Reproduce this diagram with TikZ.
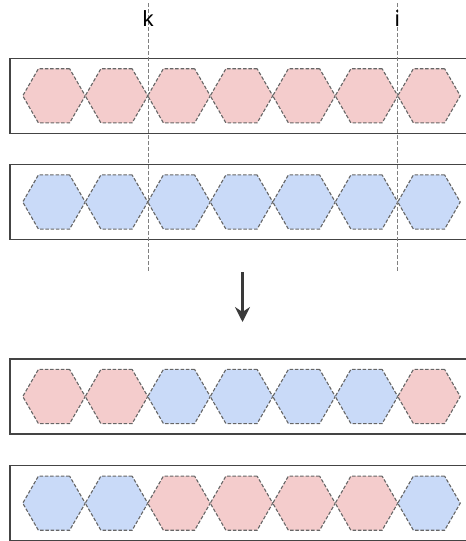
\documentclass[tikz,border=0pt]{standalone}
\usepackage{fontspec}
\setmainfont{Liberation Sans}
\usetikzlibrary{shapes.geometric,arrows.meta}

\definecolor{rosa}{HTML}{F4CCCC}
\definecolor{azzurro}{HTML}{C9DAF8}
\definecolor{bordo}{HTML}{444444}
\definecolor{scuro}{HTML}{3A3A3A}

\tikzset{
  cella/.style={regular polygon, regular polygon sides=6, minimum size=62.5pt,
    inner sep=0pt, outer sep=0pt, draw=black!60, line width=1.1pt,
    dash pattern=on 3.5pt off 1.8pt},
  riga/.style={draw=bordo, line width=1.3pt, minimum width=480pt,
    minimum height=75pt, inner sep=0pt, outer sep=0pt},
  taglio/.style={draw=black!50, line width=0.8pt, dash pattern=on 4pt off 2pt},
  freccia/.style={draw=scuro, line width=2.4pt,
    -{Stealth[length=15pt,width=15pt,inset=5pt]}},
}

\begin{document}
\begin{tikzpicture}[x=1pt, y=-1pt]
    \clip (0,0) rectangle (466,541);

    % Righe (i bordi destri escono dal foglio)
    \node[riga] (rigaA) at (250, 95.8) {};
    \node[riga] (rigaB) at (250, 201.8) {};
    \node[riga] (rigaC) at (250, 396.5) {};
    \node[riga] (rigaD) at (250, 503.2) {};

    % Prima coppia: tutta rosa e tutta azzurra
    \foreach \n in {1,...,7}
        \node[cella, fill=rosa] (a\n) at ({54+62.5*(\n-1)}, 95.8) {};
    \foreach \n in {1,...,7}
        \node[cella, fill=azzurro] (b\n) at ({54+62.5*(\n-1)}, 202) {};

    % Seconda coppia: tratto tra k e i scambiato
    \foreach \n/\c in {1/rosa,2/rosa,3/azzurro,4/azzurro,5/azzurro,6/azzurro,7/rosa}
        \node[cella, fill=\c] (c\n) at ({54+62.5*(\n-1)}, 396.5) {};
    \foreach \n/\c in {1/azzurro,2/azzurro,3/rosa,4/rosa,5/rosa,6/rosa,7/azzurro}
        \node[cella, fill=\c] (d\n) at ({54+62.5*(\n-1)}, 503.2) {};

    % Linee di taglio
    \coordinate (ksu) at (148, 3);
    \coordinate (kgiu) at (148, 272);
    \coordinate (isu) at (397.3, 3);
    \coordinate (igiu) at (397.3, 272);
    \draw[taglio] (ksu) -- (kgiu);
    \draw[taglio] (isu) -- (igiu);
    \node[font=\fontsize{22}{26}\selectfont] (k) at (148, 19) {k};
    \node[font=\fontsize{22}{26}\selectfont] (i) at (397.3, 19) {i};

    % Freccia
    \coordinate (fsu) at (242.5, 272);
    \coordinate (fgiu) at (242.5, 322);
    \draw[freccia] (fsu) -- (fgiu);
\end{tikzpicture}
\end{document}
